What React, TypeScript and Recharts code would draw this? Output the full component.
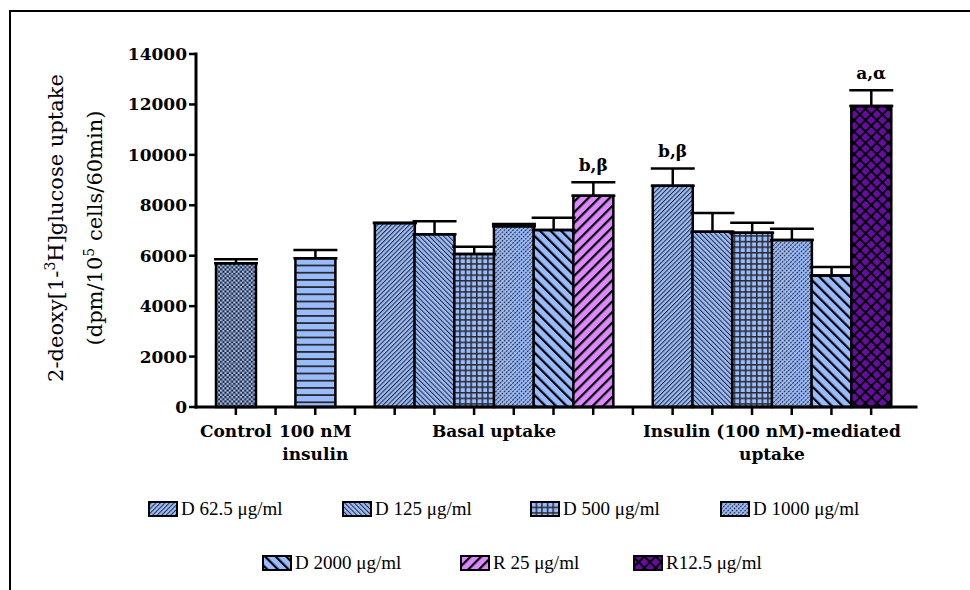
import { Bar, BarChart, Cell, ErrorBar, ReferenceDot, XAxis, YAxis } from "recharts";

// One slot per x-axis tick; the gap slots are empty spacers between groups.
const SLOT_KEYS = [
  "control", "gapA", "insulin", "gapB",
  "basal-d62", "basal-d125", "basal-d500", "basal-d1000", "basal-d2000", "basal-r25",
  "gapC",
  "ins-d62", "ins-d125", "ins-d500", "ins-d1000", "ins-d2000", "ins-r12",
];
const SLOT_TREATMENTS = [
  "ctrl", null, "ins", null,
  "d62", "d125", "d500", "d1000", "d2000", "r25",
  null,
  "d62", "d125", "d500", "d1000", "d2000", "r12",
];
const MEANS = [5700, null, 5900, null, 7300, 6850, 6070, 7170, 7020, 8380, null, 8770, 6950, 6910, 6620, 5220, 11940];
const SEMS = [160, null, 330, null, 0, 515, 290, 90, 490, 530, null, 690, 740, 400, 450, 330, 620];
const MARKS = ["", "", "", "", "", "", "", "", "", "b,β", "", "b,β", "", "", "", "", "a,α"];

const GROUP_LABELS = [["Control"], ["100 nM", "insulin"], ["Basal uptake"], ["Insulin (100 nM)-mediated", "uptake"]];
const GROUP_SPANS = [[0, 0], [2, 2], [4, 9], [11, 16]];

const LEGEND_KEYS = ["d62", "d125", "d500", "d1000", "d2000", "r25", "r12"];
const LEGEND_LABELS = ["D 62.5 μg/ml", "D 125 μg/ml", "D 500 μg/ml", "D 1000 μg/ml", "D 2000 μg/ml", "R 25 μg/ml", "R12.5 μg/ml"];

const Y_TICKS = [0, 2000, 4000, 6000, 8000, 10000, 12000, 14000];

const BLUE = "#99bbff";
const PINK = "#dd88ff";
const PURPLE = "#6a0aa6";
const INK = "#2a2a2a";
const FONT = "'DejaVu Serif', serif";
const LEGEND_FONT = "'Liberation Serif', serif";

const LEGEND_POS = [
  { left: 148, top: 501 },
  { left: 342, top: 501 },
  { left: 530, top: 501 },
  { left: 720, top: 501 },
  { left: 262, top: 555 },
  { left: 460, top: 555 },
  { left: 633, top: 555 },
];

const fillOf = (t: string | null) => (t ? `url(#pat-${t})` : "none");

const rows = SLOT_KEYS.map((key, i) => ({
  key,
  treatment: SLOT_TREATMENTS[i],
  mean: MEANS[i],
  err: SEMS[i] == null ? null : [0, SEMS[i]],
}));

function Patterns() {
  return (
    <defs>
      <pattern id="pat-ctrl" width="4.4" height="4.4" patternUnits="userSpaceOnUse">
        <rect width="4.4" height="4.4" fill={BLUE} />
        <rect width="2.2" height="2.2" fill={INK} />
        <rect x="2.2" y="2.2" width="2.2" height="2.2" fill={INK} />
      </pattern>
      <pattern id="pat-ins" width="10" height="7.2" patternUnits="userSpaceOnUse">
        <rect width="10" height="7.2" fill={BLUE} />
        <rect y="5.4" width="10" height="1.8" fill={INK} />
      </pattern>
      <pattern id="pat-d62" width="3.2" height="3.2" patternUnits="userSpaceOnUse" patternTransform="rotate(45)">
        <rect width="3.2" height="3.2" fill={BLUE} />
        <rect width="1" height="3.2" fill={INK} />
      </pattern>
      <pattern id="pat-d125" width="3.4" height="3.4" patternUnits="userSpaceOnUse" patternTransform="rotate(-45)">
        <rect width="3.4" height="3.4" fill={BLUE} />
        <rect width="1" height="3.4" fill={INK} />
      </pattern>
      <pattern id="pat-d500" width="5.6" height="5.6" patternUnits="userSpaceOnUse">
        <rect width="5.6" height="5.6" fill={BLUE} />
        <rect width="1.5" height="5.6" fill={INK} />
        <rect width="5.6" height="1.5" fill={INK} />
      </pattern>
      <pattern id="pat-d1000" width="3" height="3" patternUnits="userSpaceOnUse" patternTransform="rotate(45)">
        <rect width="3" height="3" fill={BLUE} />
        <rect width="1.1" height="2" fill={INK} />
      </pattern>
      <pattern id="pat-d2000" width="7.5" height="7.5" patternUnits="userSpaceOnUse" patternTransform="rotate(-45)">
        <rect width="7.5" height="7.5" fill={BLUE} />
        <rect width="2.2" height="7.5" fill="#000" />
      </pattern>
      <pattern id="pat-r25" width="7.5" height="7.5" patternUnits="userSpaceOnUse" patternTransform="rotate(45)">
        <rect width="7.5" height="7.5" fill={PINK} />
        <rect width="2.2" height="7.5" fill="#000" />
      </pattern>
      <pattern id="pat-r12" width="8" height="8" patternUnits="userSpaceOnUse" patternTransform="rotate(45)">
        <rect width="8" height="8" fill={PURPLE} />
        <rect width="2" height="8" fill="#000" />
        <rect width="8" height="2" fill="#000" />
      </pattern>
    </defs>
  );
}

// Group labels sit under the first slot of a group, shifted to the group's middle.
function XTick(props: any) {
  const { x, y, payload } = props;
  const idx = props.index ?? payload?.index;
  const g = GROUP_SPANS.findIndex(([a]) => a === idx);
  if (g < 0) return null;
  const [a, b] = GROUP_SPANS[g];
  const half = payload?.offset ?? 19.85;
  const cx = x + (b - a) * half;
  return (
    <g>
      {GROUP_LABELS[g].map((line, i) => (
        <text
          key={i}
          x={cx}
          y={y + 20 + i * 23}
          textAnchor="middle"
          fill="#000"
          fontSize={17}
          fontWeight={700}
          fontFamily={FONT}
        >
          {line}
        </text>
      ))}
    </g>
  );
}

function YTitle() {
  return (
    <svg width={200} height={590} style={{ position: "absolute", left: 0, top: 0 }}>
      <text
        x={63}
        y={228}
        transform="rotate(-90 63 228)"
        textAnchor="middle"
        fontSize={21}
        fontFamily={FONT}
        fill="#000"
      >
        2-deoxy[1-
        <tspan dy={-8} fontSize={14}>3</tspan>
        <tspan dy={8}>H]glucose uptake</tspan>
      </text>
      <text
        x={102}
        y={228}
        transform="rotate(-90 102 228)"
        textAnchor="middle"
        fontSize={21}
        fontFamily={FONT}
        fill="#000"
      >
        (dpm/10
        <tspan dy={-8} fontSize={14}>5</tspan>
        <tspan dy={8}> cells/60min)</tspan>
      </text>
    </svg>
  );
}

function Legend() {
  return (
    <>
      {LEGEND_KEYS.map((k, i) => (
        <div
          key={k}
          style={{
            position: "absolute",
            left: LEGEND_POS[i].left,
            top: LEGEND_POS[i].top,
            display: "flex",
            alignItems: "center",
            height: 16,
            whiteSpace: "nowrap",
          }}
        >
          <svg width={30} height={16} style={{ display: "block" }}>
            <rect x={1} y={1} width={28} height={14} fill={fillOf(k)} stroke="#000" strokeWidth={2} />
          </svg>
          <span style={{ marginLeft: 3, fontFamily: LEGEND_FONT, fontSize: 19, color: "#000", lineHeight: "16px" }}>
            {LEGEND_LABELS[i]}
          </span>
        </div>
      ))}
    </>
  );
}

export default function App() {
  return (
    <div
      style={{
        position: "fixed",
        left: 0,
        top: 0,
        width: 970,
        height: 590,
        background: "#fff",
        overflow: "hidden",
      }}
    >
      <div
        style={{
          position: "absolute",
          left: 9,
          top: 10,
          width: 1000,
          height: 600,
          borderTop: "2px solid #000",
          borderLeft: "2px solid #000",
        }}
      />
      <div style={{ position: "absolute", left: 0, top: 0 }}>
        <BarChart
          width={970}
          height={590}
          data={rows}
          margin={{ top: 54, right: 54, bottom: 123, left: 0 }}
          barCategoryGap={0}
          barGap={0}
        >
          <Patterns />
          <XAxis
            dataKey="key"
            interval={0}
            height={60}
            padding={{ left: 20, right: 25 }}
            tickSize={8}
            tickLine={{ stroke: "#000", strokeWidth: 2.5 }}
            axisLine={{ stroke: "#000", strokeWidth: 3, strokeLinecap: "square" }}
            tick={<XTick />}
          />
          <YAxis
            width={196}
            domain={[0, 14000]}
            ticks={Y_TICKS}
            interval={0}
            tickSize={7}
            tickMargin={2}
            tickLine={{ stroke: "#000", strokeWidth: 2.5 }}
            axisLine={{ stroke: "#000", strokeWidth: 3, strokeLinecap: "square" }}
            tick={{ fill: "#000", fontSize: 17, fontWeight: 700, fontFamily: FONT }}
          />
          <Bar dataKey="mean" stroke="#000" strokeWidth={2.5} isAnimationActive={false}>
            {rows.map((r) => (
              <Cell key={r.key} fill={fillOf(r.treatment)} />
            ))}
            <ErrorBar dataKey="err" width={22} stroke="#000" strokeWidth={2.5} isAnimationActive={false} />
          </Bar>
          {rows.map((r, i) =>
            MARKS[i] ? (
              <ReferenceDot
                key={`mark-${r.key}`}
                x={r.key}
                y={(r.mean ?? 0) + (SEMS[i] ?? 0)}
                r={0}
                fill="none"
                stroke="none"
                ifOverflow="visible"
                label={{
                  value: MARKS[i],
                  position: "top",
                  offset: 11,
                  fill: "#000",
                  fontSize: 17,
                  fontWeight: 700,
                  fontFamily: FONT,
                }}
              />
            ) : null
          )}
        </BarChart>
      </div>
      <YTitle />
      <Legend />
    </div>
  );
}
